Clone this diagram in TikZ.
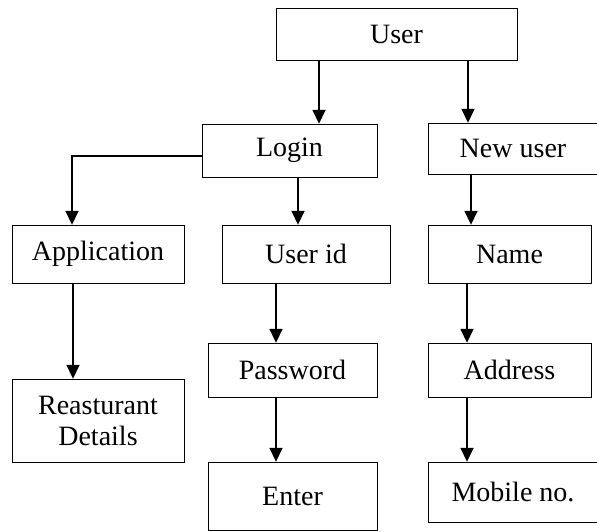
\documentclass[tikz,border=0pt]{standalone}
\usepackage{fontspec}
\setmainfont{Liberation Serif}
\usetikzlibrary{arrows.meta}
\tikzset{
	line width = 1.6pt,
	>={Triangle[width=13pt,length=14pt]},
	font = \fontsize{28}{31}\selectfont,
	box/.style={
		draw,
		rectangle,
		inner sep=0pt,
		align=center
	},
	edge/.style={
		->,
		line width=1.6pt
	}
}

\begin{document}
\begin{tikzpicture}[x=1pt, y=-1pt]
\useasboundingbox (0,0) rectangle (597,531);

\node[box, minimum width=241, minimum height=52] (user) at (396.5,34) {User};
\node[box, minimum width=175, minimum height=53] (login) at (289.5,150.5) {Login};
\node[box, minimum width=170, minimum height=51] (newuser) at (513,148.5) {New user};

\node[box, minimum width=172, minimum height=58] (app) at (98,254) {Application};
\node[box, minimum width=168, minimum height=58] (userid) at (306,254) {User id};
\node[box, minimum width=163, minimum height=58] (name) at (509.5,254) {Name};

\node[box, minimum width=172, minimum height=83] (rest) at (98,420.5) {Reasturant\\Details};
\node[box, minimum width=169, minimum height=54] (pass) at (292.5,370) {Password};
\node[box, minimum width=163, minimum height=54] (addr) at (509.5,370) {Address};

\node[box, minimum width=169, minimum height=68] (enter) at (292.5,496) {Enter};
\node[box, minimum width=170, minimum height=60] (mobile) at (513,492) {Mobile no.};

% ---
% Arrows
% ---
\foreach \a/\b/\s in {user/login/-77.5, user/newuser/71.5, login/userid/8.5,
	newuser/name/-42, app/rest/-25, userid/pass/-30, pass/enter/-16.5,
	name/addr/-42.5, addr/mobile/-42.5} {
	\draw[edge] ([xshift=\s pt]\a.south) -- ([xshift=\s pt]\a.south |- \b.north);
}
\draw[edge] ([yshift=-5.5pt]login.west) -| ([xshift=-26pt]app.north);
\end{tikzpicture}
\end{document}
